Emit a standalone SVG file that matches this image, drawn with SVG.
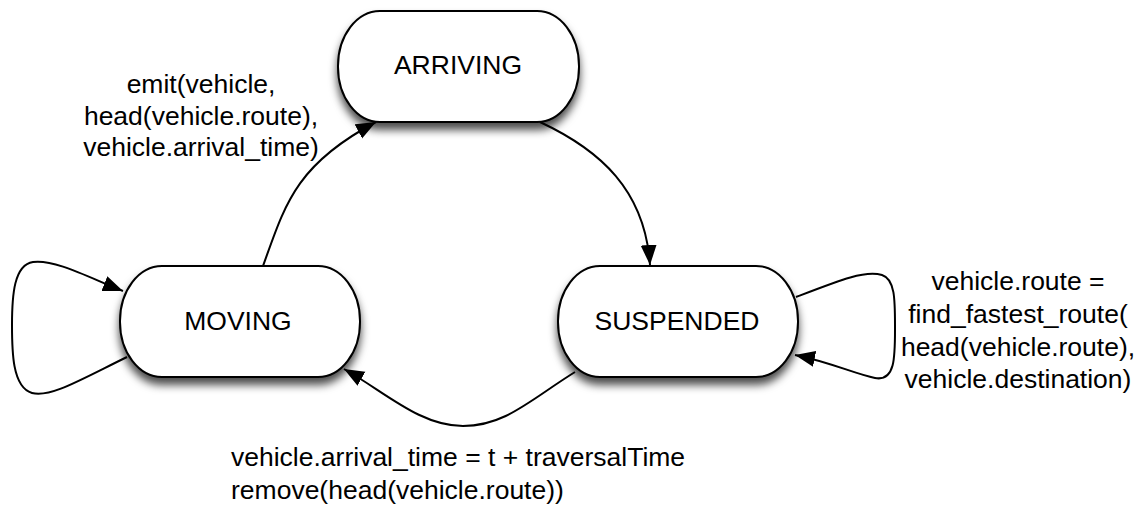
<svg xmlns="http://www.w3.org/2000/svg" width="1141" height="510" viewBox="0 0 1141 510">
  <defs>
    <filter id="shadow" x="-20%" y="-20%" width="140%" height="160%">
      <feDropShadow dx="0" dy="7" stdDeviation="4.5" flood-color="#000" flood-opacity="0.7"/>
    </filter>
    <marker id="arrow" markerUnits="userSpaceOnUse" markerWidth="22" markerHeight="18" refX="20" refY="8" orient="auto">
      <path d="M0,0 L20,8 L0,16 Z" fill="#000"/>
    </marker>
    <style>
      .node { fill: #fff; stroke: #000; stroke-width: 2; filter: url(#shadow); }
      .nlabel { font-family: "Liberation Sans", Arial, sans-serif; font-size: 26.5px; fill: #000; text-anchor: middle; }
      .elabel { font-family: "Liberation Sans", Arial, sans-serif; font-size: 26.5px; fill: #000; }
      .edge { fill: none; stroke: #000; stroke-width: 2; marker-end: url(#arrow); }
    </style>
  </defs>
  <rect width="1141" height="510" fill="#fff"/>

  <g id="connectors">
    <path class="edge" d="M263,266 C285,205 295,165 376,122"/>
    <path class="edge" d="M540,122 C600,150 645,190 650,265"/>
    <path class="edge" d="M575,372 C530,400 505,426 463,426 C420,426 385,392 344,369"/>
    <path class="edge" d="M127,357 C80,380 50,398 32,393 C12,387 12,350 12,325 C12,295 14,265 33,262 C55,259 90,278 123,291"/>
    <path class="edge" d="M796,297 C840,280 865,270 882,275 C895,279 895,300 895,325 C895,355 896,382 875,378 C855,374 830,362 795,355"/>
  </g>

  <g id="node-arriving">
    <rect class="node" x="338" y="11" width="241" height="111" rx="42" ry="55"/>
    <text class="nlabel" x="458" y="74">ARRIVING</text>
  </g>
  <g id="node-moving">
    <rect class="node" x="120" y="266" width="240" height="111" rx="42" ry="55"/>
    <text class="nlabel" x="238" y="330">MOVING</text>
  </g>
  <g id="node-suspended">
    <rect class="node" x="558" y="266" width="240" height="111" rx="42" ry="55"/>
    <text class="nlabel" x="677" y="330">SUSPENDED</text>
  </g>

  <g id="label-emit" class="elabel" text-anchor="middle">
    <text x="201" y="93">emit(vehicle,</text>
    <text x="201" y="125">head(vehicle.route),</text>
    <text x="201" y="156">vehicle.arrival_time)</text>
  </g>
  <g id="label-route" class="elabel" text-anchor="middle">
    <text x="1018" y="290">vehicle.route =</text>
    <text x="1018" y="323">find_fastest_route(</text>
    <text x="1018" y="356">head(vehicle.route),</text>
    <text x="1018" y="388">vehicle.destination)</text>
  </g>
  <g id="label-arrival" class="elabel">
    <text x="231" y="466">vehicle.arrival_time = t + traversalTime</text>
    <text x="231" y="499">remove(head(vehicle.route))</text>
  </g>
</svg>
